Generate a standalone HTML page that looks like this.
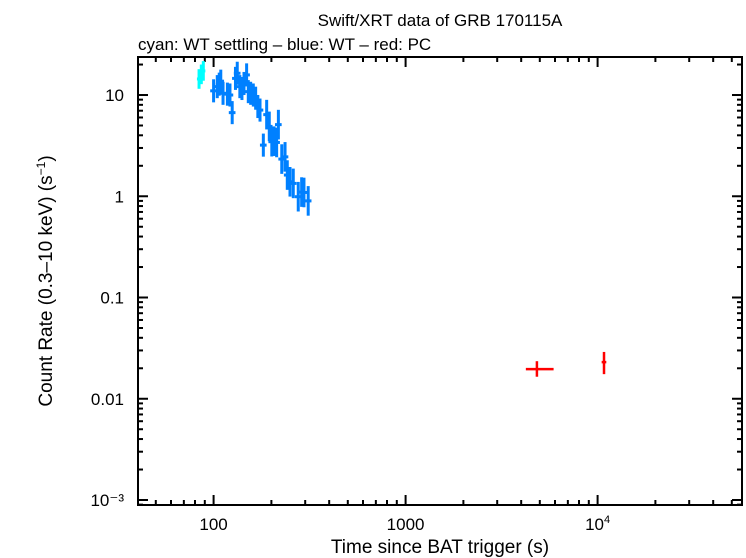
<!DOCTYPE html>
<html><head><meta charset="utf-8"><style>
body{margin:0;background:#fff;}
svg{display:block;font-family:"Liberation Sans",sans-serif;}
</style></head><body>
<svg id="chart" width="746" height="558" viewBox="0 0 746 558">
<text x="440" y="26" font-size="17" text-anchor="middle">Swift/XRT data of GRB 170115A</text>
<text x="138" y="50" font-size="17">cyan: WT settling – blue: WT – red: PC</text>
<text x="440" y="553" font-size="19" text-anchor="middle">Time since BAT trigger (s)</text>
<text transform="translate(52,281) rotate(-90)" font-size="19" text-anchor="middle">Count Rate (0.3–10 keV) (s<tspan font-size="12" dy="-7">−1</tspan><tspan dy="7">)</tspan></text>
<g id="axes"></g><g id="marks"></g>
<rect x="138" y="57" width="604" height="448" fill="none" stroke="#000" stroke-width="2"/>
</svg>
<script>
const cyanT=[84,86.3,88.4];
const cyanR=[14.4,16,17.3];
const blueT=[100,104.5,107,109,112,118,121.7,125,130,132.8,137,140.5,144,148.6,151.6,156,161,165.6,170,174.5,181.6,189,195,201,206.5,213,217.5,226.5,235.6,242,250,260,276,287.5,295.6,311];
const blueR=[11,12.1,12.8,13.7,10.4,10.2,10,6.7,14.6,16.4,12.1,11.6,13,15.8,10.8,10.4,10,9.3,7.7,7.1,3.2,6.4,4.9,3.46,3.5,3.4,5.1,2.33,2.45,1.62,1.39,1.34,0.99,1.1,1.09,0.9];
const redT=[4830,10800];
const redR=[0.0196,0.023];
const redTlo=[4230,10500];
const redThi=[5900,11100];
const redRlo=[0.0165,0.0175];
const redRhi=[0.0235,0.029];
const xTickVals=[100,1000,10000];
const yTickVals=[10,1,0.1,0.01,0.001];
const yTickLabels=["10","1","0.1","0.01","10⁻³"];
const NS='http://www.w3.org/2000/svg';
const L=138,R=742,T=57,B=505;
const xmin=1.6063,xmax=4.7521,ymin=-3.0494,ymax=1.3755;
function X(v){return L+(Math.log10(v)-xmin)/(xmax-xmin)*(R-L);}
function Y(v){return B-(Math.log10(v)-ymin)/(ymax-ymin)*(B-T);}
const ax=document.getElementById('axes'),mk=document.getElementById('marks');
function line(p,x1,y1,x2,y2,c,w){const e=document.createElementNS(NS,'line');e.setAttribute('x1',x1);e.setAttribute('y1',y1);e.setAttribute('x2',x2);e.setAttribute('y2',y2);e.setAttribute('stroke',c);e.setAttribute('stroke-width',w);p.appendChild(e);return e;}
function txt(p,x,y,s,a){const e=document.createElementNS(NS,'text');e.setAttribute('x',x);e.setAttribute('y',y);e.setAttribute('font-size','17');e.setAttribute('text-anchor',a);e.textContent=s;p.appendChild(e);return e;}
for(let d=1;d<=5;d++){for(let m=1;m<10;m++){const v=m*Math.pow(10,d);const lv=Math.log10(v);if(lv<xmin||lv>xmax)continue;const len=m==1?10:5;const x=X(v);
const t1=line(ax,x,B,x,B-len,'#000',2);


const t2=line(ax,x,T,x,T+len,'#000',2);

}}
for(let d=-4;d<=1;d++){for(let m=1;m<10;m++){const v=m*Math.pow(10,d);const lv=Math.log10(v);if(lv<ymin||lv>ymax)continue;const len=m==1?10:5;const y=Y(v);
const t1=line(ax,L,y,L+len,y,'#000',2);


const t2=line(ax,R,y,R-len,y,'#000',2);

}}
const xl=["100","1000",null];
xTickVals.forEach((v,i)=>{let e;if(i==2){e=txt(ax,X(v),530,'10','middle');const s=document.createElementNS(NS,'tspan');s.setAttribute('font-size','11');s.setAttribute('dy','-7');s.textContent='4';e.appendChild(s);}else e=txt(ax,X(v),530,xl[i],'middle');

});
yTickVals.forEach((v,i)=>{const e=txt(ax,124,Y(v)+6,yTickLabels[i],'end');

});
function pt(t,r,tlo,thi,rlo,rhi,c,w,name){const g=document.createElementNS(NS,'g');


line(g,X(tlo),Y(r),X(thi),Y(r),c,w);line(g,X(t),Y(rlo),X(t),Y(rhi),c,w);mk.appendChild(g);}
cyanT.forEach((t,i)=>{const r=cyanR[i];pt(t,r,t*0.975,t*1.025,r/1.25,r*1.25,'#00ffff',3,'cyan-point');});
blueT.forEach((t,i)=>{const r=blueR[i];const e=i>20?1.4:1.3;pt(t,r,t*0.96,t*1.04,r/e,r*e,'#0080ff',3,'blue-point');});
redT.forEach((t,i)=>{pt(t,redR[i],redTlo[i],redThi[i],redRlo[i],redRhi[i],'#ff0000',2.5,'red-point');});
</script>
</body></html>
